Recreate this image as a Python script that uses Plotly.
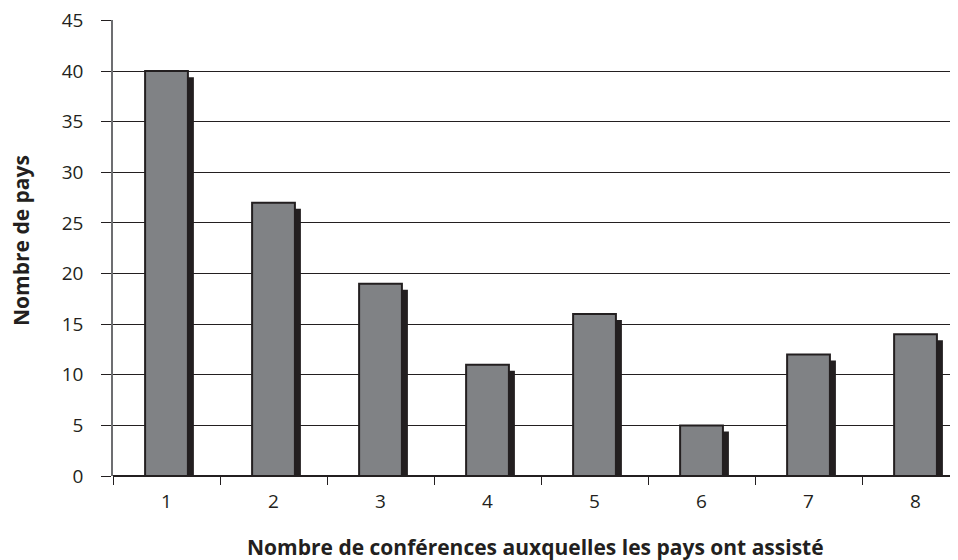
import plotly.graph_objects as go

categories = ["1", "2", "3", "4", "5", "6", "7", "8"]
values = [40, 27, 19, 11, 16, 5, 12, 14]
y_ticks = [0, 5, 10, 15, 20, 25, 30, 35, 40, 45]

x_title = "Nombre de conférences auxquelles les pays ont assisté"
y_title = "Nombre de pays"

BAR_W = 0.40
SH_DX = 0.056
SH_DY = 0.6
FILL = "#808285"
DARK = "#231f20"
FONT = "Open Sans, Lato, sans-serif"

fig = go.Figure()
fig.add_trace(go.Bar(
    x=categories, y=[v - SH_DY for v in values], width=BAR_W, offset=-BAR_W / 2 + SH_DX,
    marker=dict(color=DARK, line=dict(width=0)), hoverinfo="skip", showlegend=False,
))
fig.add_trace(go.Bar(
    x=categories, y=values, width=BAR_W, offset=-BAR_W / 2,
    marker=dict(color=FILL, line=dict(color=DARK, width=2)), showlegend=False,
))

fig.update_layout(
    width=950, height=552,
    margin=dict(l=105, r=0, t=12, b=84, autoexpand=False),
    barmode="overlay",
    plot_bgcolor="white", paper_bgcolor="white",
    font=dict(family=FONT, size=19, color="#231f20"),
    xaxis=dict(
        type="category", range=[-0.5, 7.397], tickson="boundaries",
        ticks="outside", ticklen=8, tickcolor=DARK, tickwidth=1,
        showgrid=False, showline=False, zeroline=False, automargin=False,
        tickfont=dict(size=19), ticklabelstandoff=12,
    ),
    yaxis=dict(
        range=[0, 45.05], tickvals=y_ticks,
        ticks="outside", ticklen=10, tickcolor=DARK, tickwidth=1,
        showgrid=True, gridcolor=DARK, gridwidth=1,
        showline=True, linecolor="#6d6e71", linewidth=1.5,
        zeroline=True, zerolinecolor=DARK, zerolinewidth=1.5,
        automargin=False, ticklabeloverflow="allow",
        tickfont=dict(size=19), ticklabelstandoff=14,
    ),
    annotations=[
        dict(text="<b>" + x_title + "</b>", xref="paper", yref="paper",
             x=0.5, y=-(547 - 476) / 456, xanchor="center", yanchor="middle",
             showarrow=False, font=dict(size=21)),
        dict(text="<b>" + y_title + "</b>", xref="paper", yref="paper",
             x=-(113 - 21) / 845, y=0.5 + 7 / 456, xanchor="center", yanchor="middle",
             textangle=-90, showarrow=False, font=dict(size=21)),
    ],
)

fig.write_html("out.html")
